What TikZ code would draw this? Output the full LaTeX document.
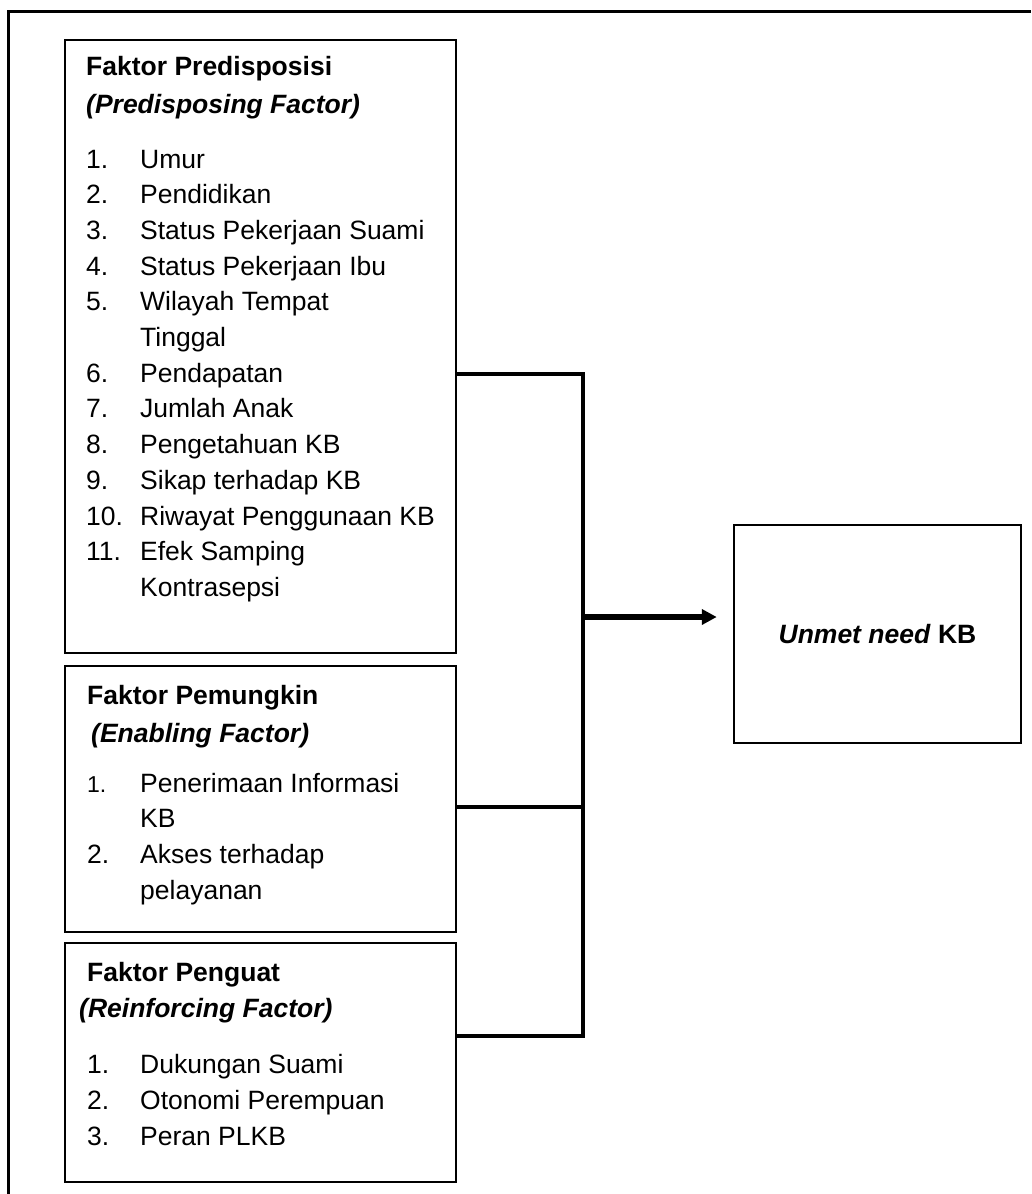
\documentclass[tikz,border=0pt]{standalone}
\usepackage{fontspec}
\setmainfont{Liberation Sans}
\usetikzlibrary{arrows.meta}

\tikzset{
  box/.style={draw, line width=2.5pt, inner sep=0pt, minimum width=391pt},
  txt/.style={anchor=base west, inner sep=0pt},
  conn/.style={line width=3.5pt},
  arr/.style={line width=6pt, -{Triangle[length=15pt,width=15pt]}},
}

\begin{document}
\begin{tikzpicture}[x=1pt, y=-1pt, font=\fontsize{26.5}{32}\selectfont]
    \useasboundingbox (0,0) rectangle (1031,1194);

        % Outer frame
        \draw[line width=3pt] (8,1194) -- (8,11) -- (1031,11);

        % Boxes
        \node[box, minimum height=613pt] (pred) at (260.5,346.5) {};
        \node[box, minimum height=266pt] (enab) at (260.5,799) {};
        \node[box, minimum height=239pt] (reinf) at (260.5,1062.5) {};
        \node[box, minimum width=287pt, minimum height=218pt] (unmet) at (877.5,634) {\textbf{\textit{Unmet need} KB}};

        % Predisposing factor
        \node[txt] (predA) at (86,75) {\textbf{Faktor Predisposisi}};
        \node[txt] (predB) at (86,113) {\textbf{\textit{(Predisposing Factor)}}};
        \foreach \i/\num/\item in {0/1./Umur, 1/2./Pendidikan, 2/3./Status Pekerjaan Suami,
            3/4./Status Pekerjaan Ibu, 4/5./Wilayah Tempat, 5//Tinggal, 6/6./Pendapatan,
            7/7./Jumlah Anak, 8/8./Pengetahuan KB, 9/9./Sikap terhadap KB,
            10/10./Riwayat Penggunaan KB, 11/11./Efek Samping, 12//Kontrasepsi}
        {
            \node[txt] (pn\i) at (86,168+\i*35.7) {\num};
            \node[txt] (pt\i) at (140,168+\i*35.7) {\item};
        }

        % Enabling factor
        \node[txt] (enabA) at (87,704) {\textbf{Faktor Pemungkin}};
        \node[txt] (enabB) at (91,742) {\textbf{\textit{(Enabling Factor)}}};
        \node[txt, font=\fontsize{23}{28}\selectfont] (en1) at (87,792) {1.};
        \node[txt] (et1) at (140,792) {Penerimaan Informasi};
        \node[txt] (et1b) at (140,827) {KB};
        \node[txt] (en2) at (87,863) {2.};
        \node[txt] (et2) at (140,863) {Akses terhadap};
        \node[txt] (et2b) at (140,899) {pelayanan};

        % Reinforcing factor
        \node[txt] (reinfA) at (87,981) {\textbf{Faktor Penguat}};
        \node[txt] (reinfB) at (79,1017) {\textbf{\textit{(Reinforcing Factor)}}};
        \node[txt] (rn1) at (87,1073) {1.};
        \node[txt] (rt1) at (140,1073) {Dukungan Suami};
        \node[txt] (rn2) at (87,1109) {2.};
        \node[txt] (rt2) at (140,1109) {Otonomi Perempuan};
        \node[txt] (rn3) at (87,1145) {3.};
        \node[txt] (rt3) at (140,1145) {Peran PLKB};

        % Connectors
        \coordinate (junc) at (583,617);
        \draw[conn] ([yshift=-27.5pt]pred.east) -| (junc);
        \draw[conn] ([yshift=-8pt]enab.east) -| (junc);
        \draw[conn] ([yshift=26.5pt]reinf.east) -| (junc);

        % Arrow to outcome
        \draw[arr, shorten >=16pt] (junc) -- (junc -| unmet.west);

    \end{tikzpicture}
\end{document}
